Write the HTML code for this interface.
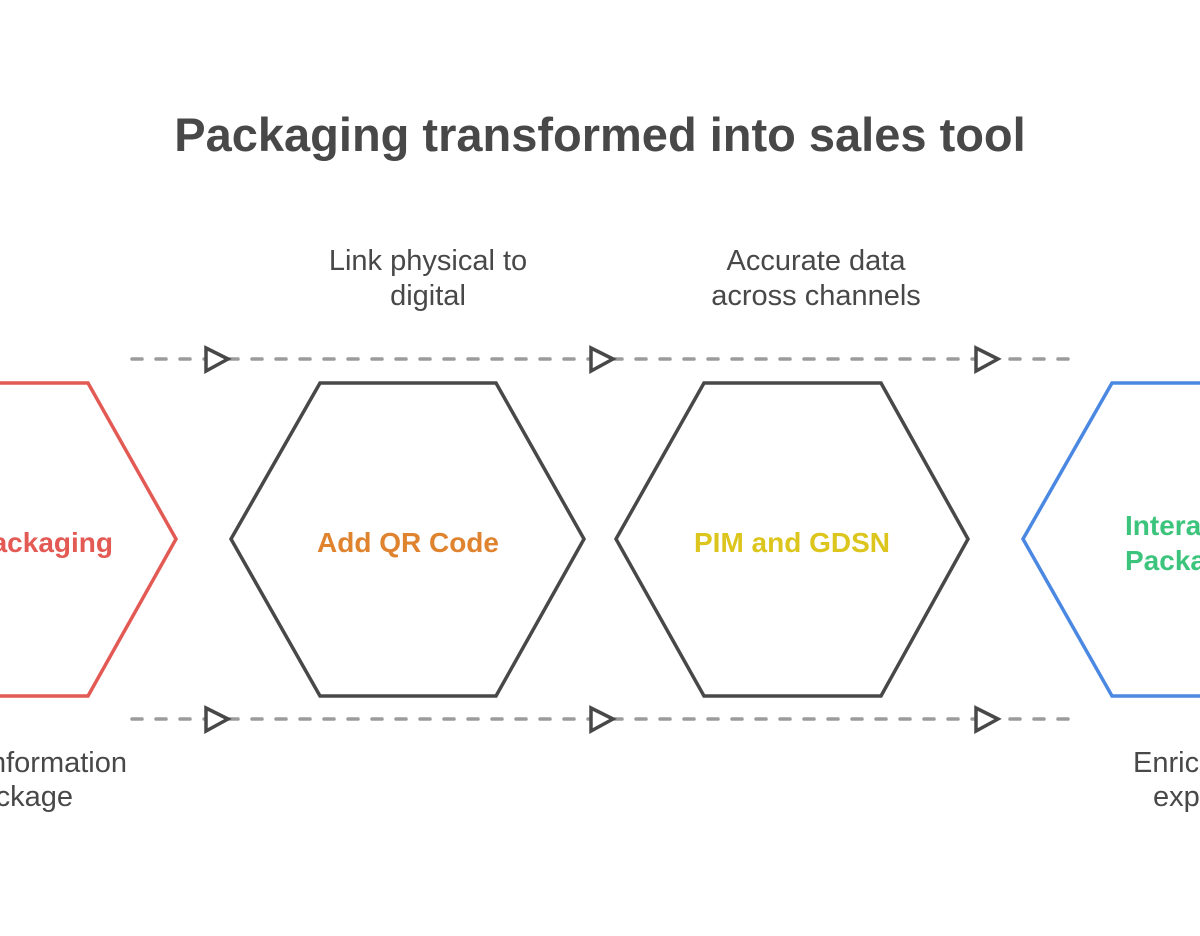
<!DOCTYPE html>
<html>
<head>
<meta charset="utf-8">
<style>
  html, body { margin: 0; padding: 0; background: #ffffff; }
  body { width: 1200px; height: 936px; overflow: hidden; }
  svg { display: block; }
  .lbl { font-family: "Liberation Sans", Arial, sans-serif; font-size: 29px; fill: #484848; }
  .hx { font-family: "Liberation Sans", Arial, sans-serif; font-size: 28px; font-weight: bold; }
</style>
</head>
<body>
<svg width="1200" height="936" viewBox="0 0 1200 936" xmlns="http://www.w3.org/2000/svg">
  <rect width="1200" height="936" fill="#ffffff"/>

  <!-- Title -->
  <text x="600" y="151" text-anchor="middle" font-family="Liberation Sans, Arial, sans-serif" font-size="47" font-weight="bold" fill="#484848">Packaging transformed into sales tool</text>

  <!-- Top labels -->
  <text class="lbl" x="428" y="270" text-anchor="middle">Link physical to</text>
  <text class="lbl" x="428" y="305" text-anchor="middle">digital</text>
  <text class="lbl" x="816" y="270" text-anchor="middle">Accurate data</text>
  <text class="lbl" x="816" y="305" text-anchor="middle">across channels</text>

  <!-- Dashed connectors -->
  <g stroke="#9b9b9b" stroke-width="3.5" stroke-linecap="round" stroke-dasharray="10 14">
    <line x1="132" y1="359" x2="980" y2="359"/>
    <line x1="1010" y1="359" x2="1068" y2="359"/>
    <line x1="132" y1="719" x2="980" y2="719"/>
    <line x1="1010" y1="719" x2="1068" y2="719"/>
  </g>

  <!-- Arrowheads -->
  <g fill="#ffffff" stroke="#484848" stroke-width="3.5" stroke-linejoin="miter">
    <polygon points="206,348 228,359 206,371"/>
    <polygon points="591,348 613,359 591,371"/>
    <polygon points="976,348 998,359 976,371"/>
    <polygon points="206,708 228,719 206,731"/>
    <polygon points="591,708 613,719 591,731"/>
    <polygon points="976,708 998,719 976,731"/>
  </g>

  <!-- Hexagons -->
  <polygon points="-154,539 -65,383 88,383 176,539 88,696 -65,696" fill="none" stroke="#e35a55" stroke-width="3.5"/>
  <polygon points="231,539 320,383 496,383 584,539 496,696 320,696" fill="none" stroke="#484848" stroke-width="3.5"/>
  <polygon points="616,539 704,383 881,383 968,539 881,696 704,696" fill="none" stroke="#484848" stroke-width="3.5"/>
  <polygon points="1023,539 1112,383 1290,383 1378,539 1290,696 1112,696" fill="none" stroke="#4a88e2" stroke-width="3.5"/>

  <!-- Hexagon labels -->
  <text class="hx" x="113" y="552" text-anchor="end" fill="#e35a55">Static Packaging</text>
  <text class="hx" x="408" y="552" text-anchor="middle" fill="#e0832f">Add QR Code</text>
  <text class="hx" x="792" y="552" text-anchor="middle" fill="#dcc51d">PIM and GDSN</text>
  <text class="hx" x="1125" y="535" text-anchor="start" fill="#3cc47d">Interactive</text>
  <text class="hx" x="1125" y="570" text-anchor="start" fill="#3cc47d">Packaging</text>

  <!-- Bottom labels -->
  <text class="lbl" x="127" y="772" text-anchor="end">Limited information</text>
  <text class="lbl" x="73" y="806" text-anchor="end">on package</text>
  <text class="lbl" x="1133" y="772" text-anchor="start">Enriched customer</text>
  <text class="lbl" x="1153" y="806" text-anchor="start">experience</text>
</svg>
</body>
</html>
